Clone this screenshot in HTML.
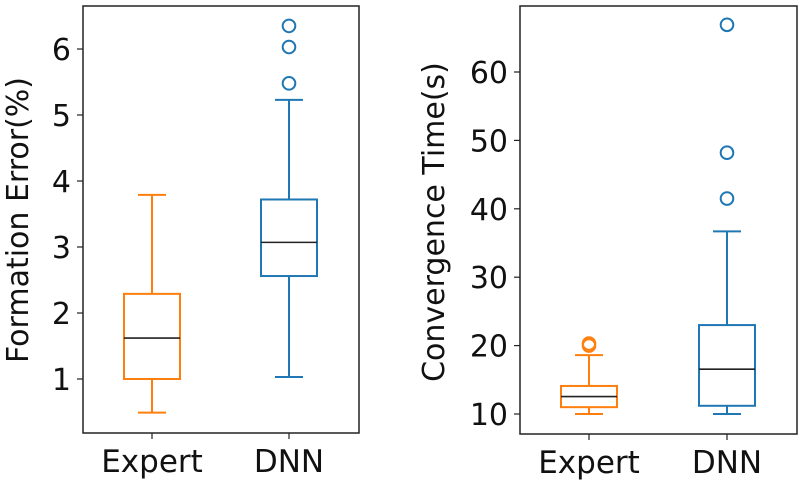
<!DOCTYPE html>
<html><head><meta charset="utf-8"><style>
body{margin:0;background:#fff;}
svg{display:block;font-family:"DejaVu Sans","Liberation Sans",sans-serif;}
</style></head><body>
<svg id="chart" width="802" height="485" viewBox="0 0 802 485"></svg>
<script>
const categories = ["Expert", "DNN"];
// Formation error stats: [whiskerLow, q1, median, q3, whiskerHigh]
const errorStats = [[0.49, 1.0, 1.62, 2.29, 3.79], [1.03, 2.56, 3.07, 3.72, 5.23]];
const errorOutliers = [[], [5.48, 6.03, 6.35]];
const errorTicks = [1, 2, 3, 4, 5, 6];
// Convergence time stats
const timeStats = [[10.0, 11.0, 12.55, 14.1, 18.6], [10.0, 11.2, 16.55, 23.0, 36.7]];
const timeOutliers = [[20.0, 20.3], [41.5, 48.2, 66.9]];
const timeTicks = [10, 20, 30, 40, 50, 60];
const colors = ["#ff7f0e", "#1f77b4"];

const svg = document.getElementById('chart');
const NS = 'http://www.w3.org/2000/svg';
function mk(tag, attrs, parent) {
  const e = document.createElementNS(NS, tag);
  for (const k in attrs) e.setAttribute(k, attrs[k]);
  (parent || svg).appendChild(e);
  return e;
}
function panel(cfg) {
  const g = mk('g', {});
  
  
  const yS = v => cfg.y0 - (v - cfg.v0) * cfg.k;
  const xS = i => cfg.xs[i];
  const frame = mk('rect', {x: cfg.left, y: cfg.top, width: cfg.right - cfg.left, height: cfg.bottom - cfg.top, fill: 'none', stroke: '#222', 'stroke-width': 1.5}, g);
  
  
  cfg.ticks.forEach(t => {
    const y = yS(t);
    mk('line', {x1: cfg.left - 6, x2: cfg.left, y1: y, y2: y, stroke: '#222', 'stroke-width': 1.2}, g);
    const tx = mk('text', {x: cfg.left - 12, y: y + 11, 'text-anchor': 'end', 'font-size': 30, fill: '#111'}, g);
    tx.textContent = t;
    
    
  });
  categories.forEach((c, i) => {
    const x = xS(i);
    mk('line', {x1: x, x2: x, y1: cfg.bottom, y2: cfg.bottom + 6, stroke: '#222', 'stroke-width': 1.2}, g);
    const tx = mk('text', {x: x, y: cfg.bottom + 39, 'text-anchor': 'middle', 'font-size': 31, fill: '#111'}, g);
    tx.textContent = c;
    
    
    const s = cfg.stats[i], col = colors[i];
    const bg = mk('g', {stroke: col, 'stroke-width': 2, fill: 'none'}, g);
    
    
    const hw = 28, cw = 14;
    mk('line', {x1: x, x2: x, y1: yS(s[0]), y2: yS(s[1])}, bg);
    mk('line', {x1: x, x2: x, y1: yS(s[3]), y2: yS(s[4])}, bg);
    mk('line', {x1: x - cw, x2: x + cw, y1: yS(s[0]), y2: yS(s[0])}, bg);
    mk('line', {x1: x - cw, x2: x + cw, y1: yS(s[4]), y2: yS(s[4])}, bg);
    mk('rect', {x: x - hw, y: yS(s[3]), width: 2 * hw, height: yS(s[1]) - yS(s[3])}, bg);
    mk('line', {x1: x - hw, x2: x + hw, y1: yS(s[2]), y2: yS(s[2]), stroke: '#222', 'stroke-width': 1.6}, bg);
    cfg.outliers[i].forEach(o => {
      const ci = mk('circle', {cx: x, cy: yS(o), r: 6.3}, bg);
      
      
    });
  });
  const cy = cfg.labelY;
  const lab = mk('text', {x: cfg.labelX, y: cy, transform: `rotate(-90 ${cfg.labelX} ${cy})`, 'text-anchor': 'middle', 'font-size': 30, fill: '#111'}, g);
  lab.textContent = cfg.label;
  
  
}
panel({name: 'formation-error-panel', left: 83, right: 359, top: 6, bottom: 433, xs: [152, 289], y0: 379, v0: 1, k: 66,
  ticks: errorTicks, stats: errorStats, outliers: errorOutliers, label: 'Formation Error(%)', labelX: 28, labelY: 220});
panel({name: 'convergence-time-panel', left: 520, right: 797, top: 6, bottom: 434, xs: [589, 727], y0: 414, v0: 10, k: 6.84,
  ticks: timeTicks, stats: timeStats, outliers: timeOutliers, label: 'Convergence Time(s)', labelX: 444, labelY: 222});
</script>
</body></html>
